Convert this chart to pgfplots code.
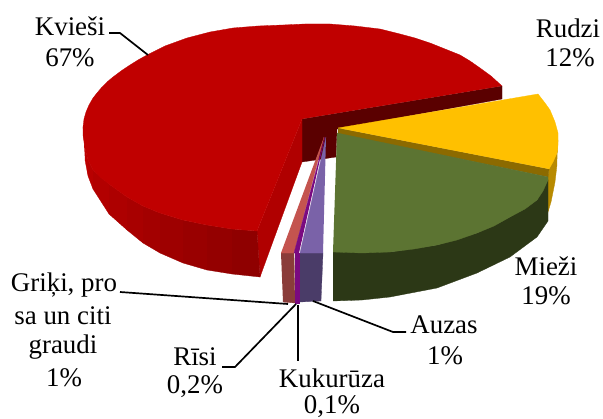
\documentclass[border=0pt]{standalone}
\usepackage{pgfplots}
\pgfplotsset{compat=1.18}
\usepackage{fontspec}
\setmainfont{Liberation Serif}

% colours of the pie
\definecolor{redtop}{HTML}{C00000}
\definecolor{redcut}{HTML}{B00000}
\definecolor{redwall}{HTML}{5A0000}
\definecolor{yeltop}{HTML}{FFC000}
\definecolor{yelin}{HTML}{8C6A00}
\definecolor{yelout}{HTML}{B88A00}
\definecolor{gretop}{HTML}{5C7432}
\definecolor{greside}{HTML}{2C3816}
\definecolor{purtop}{HTML}{7A62A8}
\definecolor{purside}{HTML}{4A3C68}
\definecolor{magtop}{HTML}{7A0A80}
\definecolor{pintop}{HTML}{C4544F}
\definecolor{pinside}{HTML}{8A3C3A}

% one flat face of the pie, in picture pixels
\newcommand{\face}[2]{\addplot[fill=#1,draw=#1,line width=0.3pt] coordinates {#2};}
\newcommand{\leader}[1]{\addplot[black,line width=1.7pt] coordinates {#1};}

\begin{document}
\begin{tikzpicture}[every node/.style={font=\fontsize{27}{31}\selectfont,inner sep=0pt,align=center}]
\path[use as bounding box] (0,0) rectangle (603bp,419bp);
\begin{axis}[
    at={(0,0)},anchor=south west,
    scale only axis,
    width=603bp,height=419bp,
    xmin=0,xmax=603,ymin=0,ymax=419,
    y dir=reverse,
    hide axis,
    clip=false
]
% Kviesi, 67%: walls first, top last
\face{redwall}{(302,119)(502,86)(502,99)(337,129)(336,157)(302,162)}
\face{redcut}{(302,119)(302,162)(260,277)(257,231)}
% outer wall in narrow strips, darker towards the cut
\face{red!74!black}{(83,127)(85,148)(88,160)(88,176)(85,160)}
\face{red!72!black}{(88,160)(93,170)(93,189)(88,176)}
\face{red!70!black}{(93,170)(109,184)(109,214)(93,189)}
\face{red!68!black}{(109,184)(127,197)(127,230)(109,214)}
\face{red!66!black}{(127,197)(143,206)(143,243)(127,230)}
\face{red!64!black}{(143,206)(160,213)(160,253)(143,243)}
\face{red!62!black}{(160,213)(183,220)(183,263)(160,253)}
\face{red!60!black}{(183,220)(207,225)(207,270)(183,263)}
\face{red!58!black}{(207,225)(232,229)(232,274)(207,270)}
\face{red!56!black}{(232,229)(257,231)(260,277)(232,274)}
\face{redtop}{(502,86)(491,76)(480,68)(470,61)(460,55)(445,49)(430,43)(415,38)(400,34)(380,29)(355,26)(330,24)(305,24)(283,25)(258,26)(233,28)(210,32)(187,38)(165,46)(155,51)(147,55)(138,60)(130,65)(121,71)(113,77)(107,82)(102,87)(97,93)(93,98)(89,105)(86,112)(84,119)(83,127)(83,135)(85,148)(88,160)(93,170)(100,177)(109,184)(127,197)(143,206)(160,213)(183,220)(207,225)(232,229)(257,231)(302,119)}
% Rudzi, 12%
\face{yelout}{(558,140)(557,153)(549,169)(548,176)(548,212)(551,202)(555,182)(557,165)}
\face{yelin}{(338,128)(549,169)(548,177)(338,134)}
\face{yeltop}{(338,128)(538,94)(545,103)(550,110)(555,122)(558,133)(558,145)(557,153)(553,162)(549,169)}
% Miezi, 19%
\face{greside}{(333,252)(390,252)(437,245)(477,233)(510,217)(537,200)(548,180)(548,221)(537,237)(510,257)(477,273)(437,288)(390,297)(362,300)(333,301)}
\face{gretop}{(337,133)(548,177)(548,180)(543,191)(537,200)(525,209)(510,217)(494,226)(477,233)(457,240)(437,245)(414,249)(390,252)(362,253)(333,252)}
% Griki, pro, 1%
\face{pinside}{(281,253)(294,253)(295,303)(283,302)}
\face{pintop}{(324,137)(294,253)(281,253)}
% Kukuruza and Risi, thin slices
\face{magtop}{(295,253)(299,253)(299,303)(295,303)}
\face{magtop}{(325,137)(294,253)(299,253)}
% Auzas, 1%
\face{purside}{(300,253)(323,253)(321,301)(300,302)}
\face{purtop}{(326,137)(300,253)(323,253)}
% leader lines
\leader{(109,33)(120,33)(148,55)}
\leader{(120,292)(288,304)}
\leader{(222,367)(235,367)(296,304)}
\leader{(298,305)(298,361)}
\leader{(313,301)(393,332)(406,332)}
% labels
\node at (axis cs:70,26) {Kvieši};
\node at (axis cs:70,58) {67\%};
\node at (axis cs:568,28) {Rudzi};
\node at (axis cs:570,58) {12\%};
\node at (axis cs:546,266) {Mieži};
\node at (axis cs:546,296) {19\%};
\node at (axis cs:444,325) {Auzas};
\node at (axis cs:445,356) {1\%};
\node at (axis cs:332,378) {Kukurūza};
\node at (axis cs:332,407) {0,1\%};
\node at (axis cs:195,357) {Rīsi};
\node at (axis cs:195,387) {0,2\%};
\node at (axis cs:64,285) {Griķi, pro};
\node at (axis cs:63,316) {sa un citi};
\node at (axis cs:63,347) {graudi};
\node at (axis cs:64,378) {1\%};
\end{axis}
\end{tikzpicture}
\end{document}
